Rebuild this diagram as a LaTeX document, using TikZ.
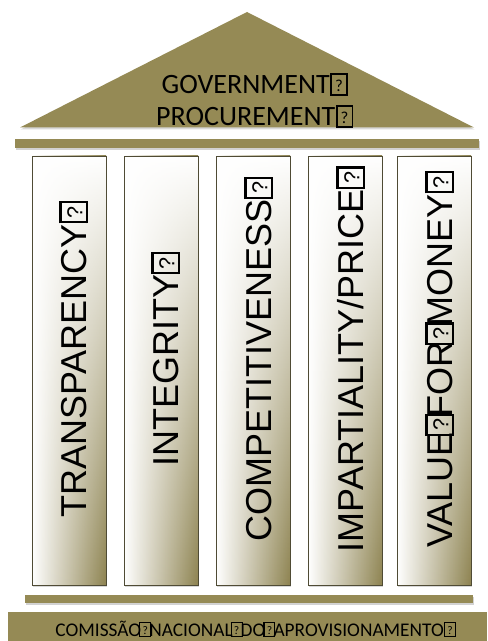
\documentclass[tikz,border=0pt]{standalone}
\usepackage{fontspec}
\usepackage{graphicx}
\usetikzlibrary{shadows,fadings}
\newfontfamily\calibrifont{Carlito}
\newfontfamily\arialfont{Liberation Sans}
\definecolor{olive}{HTML}{958A55}
\definecolor{pillarline}{HTML}{4F4B35}
\newcommand{\qbox}{{\setlength{\fboxsep}{0pt}\setlength{\fboxrule}{0.06em}\kern0.02em\fbox{\makebox[0.5em]{\rule{0pt}{0.68em}\raisebox{0.1em}{\scalebox{0.6}{?}}}}\kern0.02em}}
\newcommand{\qsp}{\kern-0.12em\qbox\kern-0.12em}
\tikzfading[name=fadetop, top color=transparent!0, middle color=transparent!45, bottom color=transparent!100]
\begin{document}
\begin{tikzpicture}[x=0.75pt,y=-0.75pt,
  bar/.style={fill=olive, drop shadow={shadow xshift=0.8pt, shadow yshift=-1.2pt, opacity=0.35}},
  pillarbox/.style={draw=pillarline, line width=0.6pt, left color=white, right color=olive!95!black,
    drop shadow={shadow xshift=1pt, shadow yshift=-1.2pt, opacity=0.3}},
  pillartext/.style={anchor=base, rotate=90, inner sep=0pt, font=\arialfont\fontsize{27}{30}\selectfont},
  rooftext/.style={align=center, inner sep=0pt, font=\calibrifont\fontsize{21}{24}\selectfont},
  basetext/.style={inner sep=0pt, font=\calibrifont\fontsize{14.5}{18}\selectfont}]
\useasboundingbox (0,0) rectangle (487,641);
\fill[white] (0,0) rectangle (487,641);
% roof
\fill[olive, drop shadow={shadow xshift=0.5pt, shadow yshift=-1.5pt, opacity=0.3}] (247,12) -- (474,127.5) -- (20,127.5) -- cycle;
\node[rooftext, anchor=base] (gov) at (255,94) {GOVERNMENT\qbox};
\node[rooftext, anchor=base] (proc) at (255,126) {PROCUREMENT\qbox};
% top bar
\fill[bar] (15,139) rectangle (479,148);
% pillars
\foreach \xa/\xb in {32/106, 124/198, 216/290, 308/382, 397/471}{
  \path[pillarbox] (\xa,156) rectangle (\xb,585);
  \fill[white, path fading=fadetop] (\xa,156) rectangle (\xb,585);
  \draw[pillarline, line width=0.6pt] (\xa,156) rectangle (\xb,585);
}
\node[pillartext] (p1) at (86,359) {TRANSPARENCY\qbox};
\node[pillartext] (p2) at (178,359) {INTEGRITY\qbox};
\node[pillartext] (p3) at (271,359) {COMPETITIVENESS\qbox};
\node[pillartext] (p4) at (363,359) {IMPARTIALITY/PRICE\qbox};
\node[pillartext] (p5) at (452,359) {VALUE\qsp FOR\qsp MONEY\qbox};
% bottom bar
\fill[bar] (25,595) rectangle (473,603);
% base
\fill[olive] (8,612) rectangle (487,641);
\node[basetext, anchor=base] (cna) at (256,636) {COMISSÃO\qsp NACIONAL\qsp DO\qsp APROVISIONAMENTO\qbox};
\end{tikzpicture}
\end{document}
